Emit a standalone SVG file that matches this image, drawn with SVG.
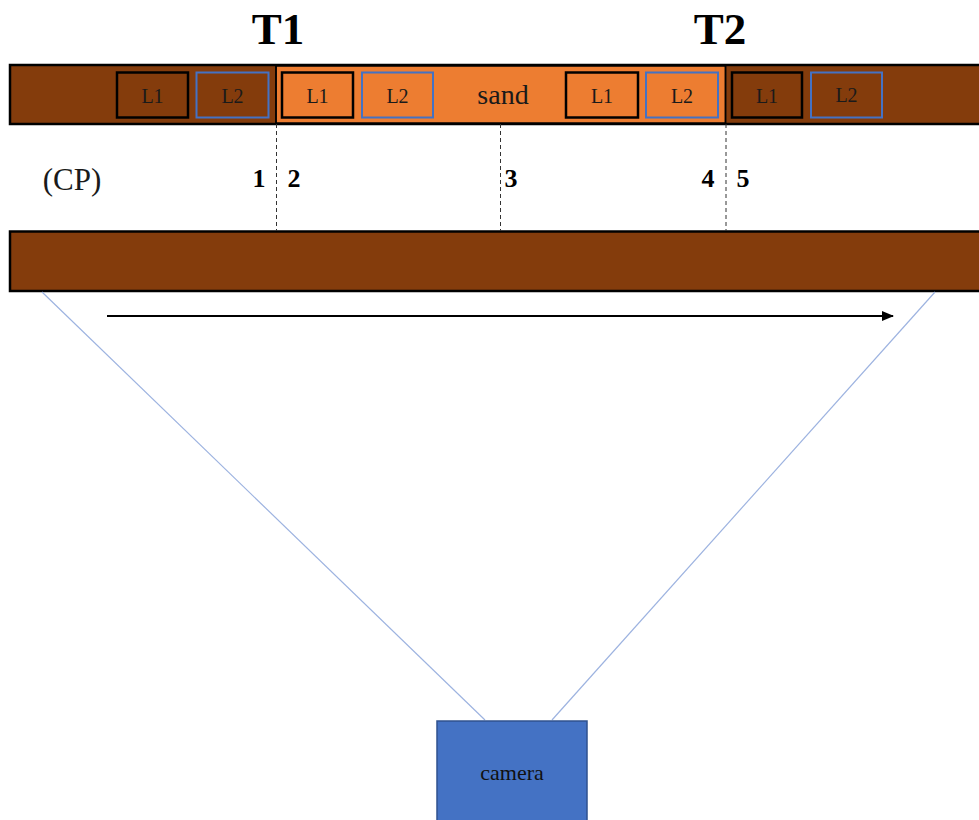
<svg xmlns="http://www.w3.org/2000/svg" width="979" height="820" viewBox="0 0 979 820">
<style>
.bar{fill:#843c0c;stroke:#000;stroke-width:2.5}
.sand{fill:#ed7d31;stroke:#000;stroke-width:1.5}
.l1{stroke:#000;stroke-width:2.5}
.l2{stroke:#4472c4;stroke-width:2}
.dk{fill:#843c0c}
.or{fill:#ed7d31}
.lt{font-family:"Liberation Serif",serif;font-size:20px;fill:#1a1a1a;text-anchor:middle}
.num{font-family:"Liberation Serif",serif;font-size:26px;font-weight:bold;fill:#000;text-anchor:middle}
.tt{font-family:"Liberation Serif",serif;font-size:45px;font-weight:bold;fill:#000;text-anchor:middle}
.dash{stroke:#333;stroke-width:1;stroke-dasharray:4,3}
.view{stroke:#9db3e0;stroke-width:1.2}
</style>
<defs>
<marker id="ah" markerWidth="12" markerHeight="10" refX="11" refY="5" orient="auto" markerUnits="userSpaceOnUse">
<path d="M0,0 L12,5 L0,10 Z" fill="#000"/>
</marker>
</defs>
<g id="top-bar">
<rect class="bar" x="10" y="65" width="975" height="59"/>
<rect class="sand" x="276" y="66" width="449.5" height="57"/>
<line x1="276" y1="65" x2="276" y2="124" stroke="#000" stroke-width="1.5"/>
<line x1="725.5" y1="65" x2="725.5" y2="124" stroke="#000" stroke-width="1.5"/>
</g>
<g id="labels-left">
<rect class="l1 dk" x="117" y="72.5" width="71" height="45"/><text class="lt" x="152.5" y="103">L1</text>
<rect class="l2 dk" x="196.5" y="72.5" width="72" height="45"/><text class="lt" x="232.5" y="103">L2</text>
</g>
<g id="labels-sand">
<rect class="l1 or" x="282" y="72.5" width="71" height="45"/><text class="lt" x="317.5" y="103">L1</text>
<rect class="l2 or" x="362" y="72.5" width="71" height="45"/><text class="lt" x="397.5" y="103">L2</text>
<text x="503" y="104" font-family="Liberation Serif,serif" font-size="28" fill="#1a1a1a" text-anchor="middle">sand</text>
<rect class="l1 or" x="566" y="72.5" width="72" height="45"/><text class="lt" x="602" y="103">L1</text>
<rect class="l2 or" x="646" y="72.5" width="72" height="45"/><text class="lt" x="682" y="103">L2</text>
</g>
<g id="labels-right">
<rect class="l1 dk" x="732" y="72.5" width="70" height="45"/><text class="lt" x="767" y="103">L1</text>
<rect class="l2 dk" x="811" y="72.5" width="71" height="45"/><text class="lt" x="846.5" y="102">L2</text>
</g>
<g id="titles">
<text class="tt" x="278" y="44">T1</text>
<text class="tt" x="720" y="44">T2</text>
</g>
<g id="bottom-bar">
<rect class="bar" x="10" y="231.5" width="975" height="59.5"/>
</g>
<g id="connectors">
<line class="dash" x1="276.5" y1="124" x2="276.5" y2="231"/>
<line class="dash" x1="500.5" y1="124" x2="500.5" y2="231"/>
<line class="dash" x1="726" y1="124" x2="726" y2="231"/>
<line x1="107" y1="316" x2="893" y2="316" stroke="#000" stroke-width="2" marker-end="url(#ah)"/>
<line class="view" x1="42" y1="292" x2="485" y2="720"/>
<line class="view" x1="935" y1="292" x2="552" y2="720"/>
</g>
<g id="points">
<text x="72" y="190" font-family="Liberation Serif,serif" font-size="31" fill="#1a1a1a" text-anchor="middle">(CP)</text>
<text class="num" x="259" y="187">1</text>
<text class="num" x="294" y="187">2</text>
<text class="num" x="511" y="187">3</text>
<text class="num" x="708" y="187">4</text>
<text class="num" x="743" y="187">5</text>
</g>
<g id="camera">
<rect x="437" y="721" width="150" height="105" fill="#4472c4" stroke="#2f528f" stroke-width="1.5"/>
<text x="512" y="780" font-family="Liberation Serif,serif" font-size="22" fill="#111" text-anchor="middle">camera</text>
</g>
</svg>
